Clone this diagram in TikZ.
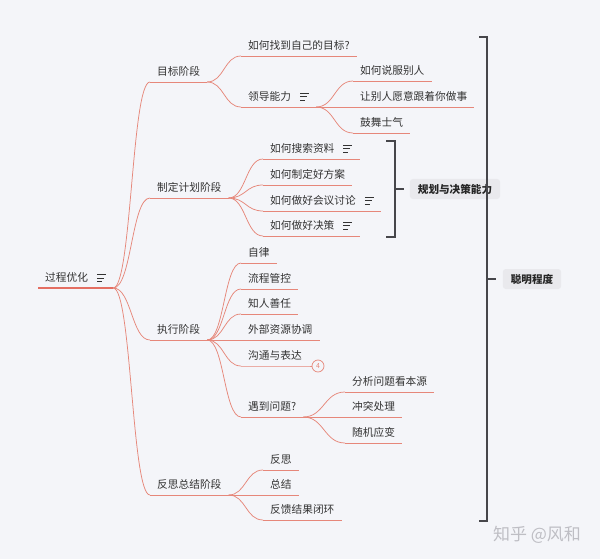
\documentclass[tikz,border=0pt]{standalone}
\usepackage{fontspec}
\setmainfont{Noto Sans CJK SC}
\usetikzlibrary{calc}
\definecolor{bgc}{RGB}{244,245,249}
\definecolor{lnk}{RGB}{230,135,122}
\definecolor{rootc}{RGB}{228,110,98}
\definecolor{txt}{RGB}{51,51,51}
\definecolor{brk}{RGB}{70,70,75}
\definecolor{labc}{RGB}{233,233,237}
\definecolor{wmc}{RGB}{190,190,196}
\newcommand\noteicon{\hspace{9pt}\raisebox{0pt}{\vbox{\hrule width 9pt height 1pt\vskip 2.3pt\hrule width 7pt height 1pt\vskip 2.3pt\hrule width 5pt height 1pt}}}
\begin{document}
\begin{tikzpicture}[x=1pt,y=-1pt,
  topic/.style={anchor=south west, inner xsep=7pt, inner ysep=6pt, text height=8pt, text depth=0pt, font=\fontsize{10.7}{12}\selectfont, text=txt},
  link/.style={draw=lnk, line width=0.75pt, to path={let \p1=(\tikztostart),\p2=(\tikztotarget) in .. controls ({0.5*\x1+0.5*\x2},\y1) and ({0.5*\x1+0.5*\x2},\y2) .. (\tikztotarget)}},
  uline/.style={draw=lnk, line width=0.75pt},
  brkline/.style={draw=brk, line width=1.2pt},
  labbox/.style={fill=labc, rounded corners=3pt, font=\bfseries\fontsize{10.6}{12}\selectfont, text=black!85, inner xsep=8pt, minimum height=20pt}]
\fill[bgc] (0,0) rectangle (600,559);
\useasboundingbox (0,0) rectangle (600,559);

% root
\node[topic] (root) at (38,288) {过程优化\noteicon};
% level 1
\node[topic] (g1) at (150,82) {目标阶段};
\node[topic] (g2) at (150,198) {制定计划阶段};
\node[topic] (g3) at (150,340) {执行阶段};
\node[topic] (g4) at (150,495) {反思总结阶段};
% under g1
\node[topic] (a1) at (241,56) {如何找到自己的目标?};
\node[topic] (a2) at (241,107) {领导能力\noteicon\hspace{3pt}};
\node[topic] (b1) at (353,81) {如何说服别人};
\node[topic] (b2) at (353,107) {让别人愿意跟着你做事};
\node[topic] (b3) at (353,133) {鼓舞士气};
% under g2
\node[topic] (c1) at (263,159) {如何搜索资料\noteicon};
\node[topic] (c2) at (263,185) {如何制定好方案};
\node[topic] (c3) at (263,211) {如何做好会议讨论\noteicon};
\node[topic] (c4) at (263,236) {如何做好决策\noteicon};
% under g3
\node[topic] (d1) at (241,263) {自律};
\node[topic] (d2) at (241,289) {流程管控};
\node[topic] (d3) at (241,314) {知人善任};
\node[topic] (d4) at (241,340) {外部资源协调};
\node[topic] (d5) at (241,366) {沟通与表达};
\node[topic] (d6) at (241,417) {遇到问题?\hspace{9pt}};
\node[topic] (e1) at (345,392) {分析问题看本源};
\node[topic] (e2) at (345,417) {冲突处理};
\node[topic] (e3) at (345,443) {随机应变};
% under g4
\node[topic] (f1) at (263,470) {反思};
\node[topic] (f2) at (263,495) {总结};
\node[topic] (f3) at (263,520) {反馈结果闭环};

% collapsed marker
\node[circle, draw=lnk, line width=0.7pt, inner sep=0pt, minimum size=12pt, text=lnk, font=\fontsize{7}{8}\selectfont] (n4) at (318,366) {4};

% underlines
\draw[uline, draw=rootc, line width=1.8pt] (root.south west) -- (root.south east);
\foreach \n in {g1,g2,g3,g4,a1,a2,b1,b2,b3,c1,c2,c3,c4,d1,d2,d3,d4,d6,e1,e2,e3,f1,f2,f3}
  \draw[uline] (\n.south west) -- (\n.south east);
\draw[uline] (d5.south west) -- (d5.south east) -- (n4.west);

% connectors
\foreach \a/\b in {root/g1,root/g2,root/g3,root/g4,g1/a1,g1/a2,a2/b1,a2/b2,a2/b3,
  g2/c1,g2/c2,g2/c3,g2/c4,g3/d1,g3/d2,g3/d3,g3/d4,g3/d5,g3/d6,d6/e1,d6/e2,d6/e3,g4/f1,g4/f2,g4/f3}
  \draw[link] (\a.south east) to (\b.south west);

% brackets and labels
\node[labbox] (lab1) at (455,189) {规划与决策能力};
\node[labbox] (lab2) at (532,279) {聪明程度};
\coordinate (k1a) at (386,141);
\coordinate (k1b) at (395,141);
\coordinate (k1c) at (395,237);
\coordinate (k1d) at (386,237);
\coordinate (k1m) at (395,189);
\coordinate (k1e) at (404,189);
\draw[brkline] (k1a) -- (k1b) -- (k1c) -- (k1d);
\draw[brkline] (k1m) -- (k1e);
\coordinate (k2a) at (479,37);
\coordinate (k2b) at (487,37);
\coordinate (k2c) at (487,521);
\coordinate (k2d) at (479,521);
\coordinate (k2m) at (487,279);
\coordinate (k2e) at (496,279);
\draw[brkline] (k2a) -- (k2b) -- (k2c) -- (k2d);
\draw[brkline] (k2m) -- (k2e);

% watermark
\node[text=wmc, font=\fontsize{17}{20}\selectfont] (wm) at (537,535) {知乎 @风和};
\end{tikzpicture}
\end{document}
